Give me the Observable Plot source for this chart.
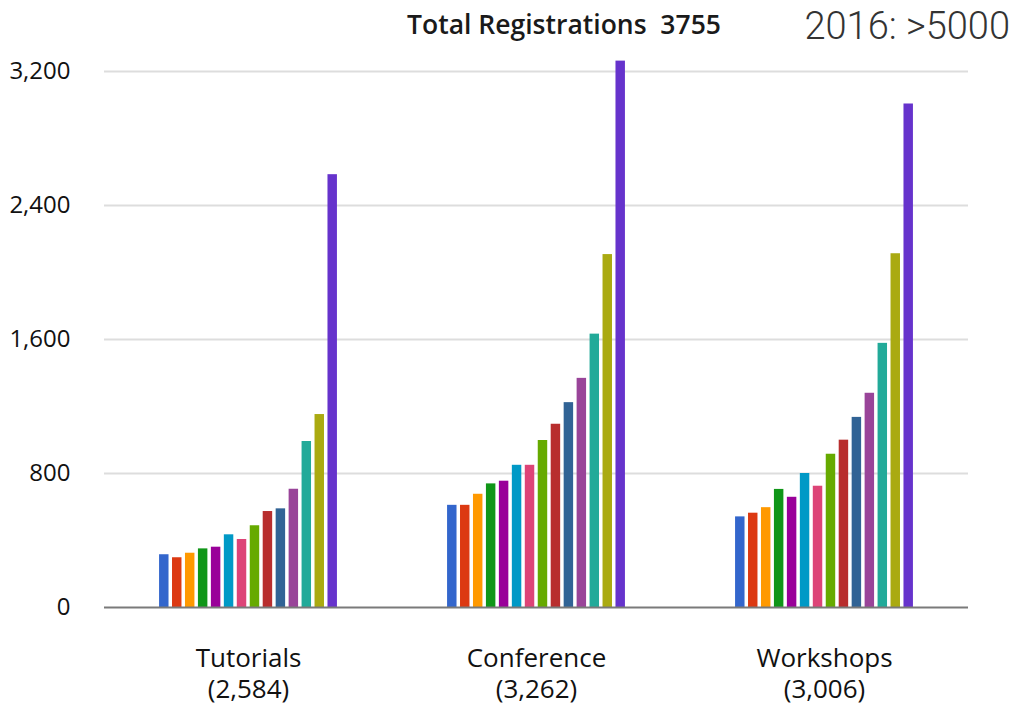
<!DOCTYPE html>
<html>
<head>
<meta charset="utf-8">
<script src="https://cdn.jsdelivr.net/npm/d3@7"></script>
<script src="https://cdn.jsdelivr.net/npm/@observablehq/plot@0.6"></script>
<style>
  html, body { margin: 0; padding: 0; background: #fff; }
  #wrap { position: relative; width: 1013px; height: 707px; overflow: hidden; background: #fff; }
  #title { position: absolute; top: 11px; left: 564px; transform: translateX(-50%); white-space: pre;
           font-family: "Open Sans", sans-serif; font-weight: 600; font-size: 26.5px; line-height: 1; color: #1a1a1a; }
  #note { position: absolute; top: 7px; right: 3px; white-space: pre;
          font-family: Roboto, sans-serif; font-weight: 300; font-size: 38px; line-height: 1; color: #333; }
  svg { display: block; }
</style>
</head>
<body>
<div id="wrap">
  <div id="chart"></div>
  <div id="title">Total Registrations  3755</div>
  <div id="note">2016: &gt;5000</div>
</div>
<script>
const categories = ["Tutorials", "Conference", "Workshops"];
const totalLabels = ["(2,584)", "(3,262)", "(3,006)"];
const tutorials  = [315, 297, 324, 350, 360, 434, 406, 488, 573, 589, 706, 991, 1152, 2584];
const conference = [610, 610, 676, 738, 754, 849, 849, 997, 1094, 1223, 1368, 1632, 2107, 3262];
const workshops  = [541, 563, 596, 705, 658, 800, 724, 915, 999, 1135, 1279, 1577, 2112, 3006];
const colors = ["#3366cc", "#dc3912", "#ff9900", "#109618", "#990099", "#0099c6", "#dd4477",
                "#66aa00", "#b82e2e", "#316395", "#994499", "#22aa99", "#aaaa11", "#6633cc"];
const yTicks = [0, 800, 1600, 2400, 3200];

const seriesByGroup = [tutorials, conference, workshops];
const data = categories.flatMap((c, g) => seriesByGroup[g].map((v, i) => ({group: c, i, value: v})));
const idx = d3.range(colors.length);

const chart = Plot.plot({
  width: 1013,
  height: 707,
  marginLeft: 104,
  marginRight: 45,
  marginTop: 71,
  marginBottom: 100,
  style: {fontFamily: "'Open Sans', sans-serif", background: "transparent", color: "#111"},
  fx: {domain: categories, paddingInner: 0, paddingOuter: 0, round: false, label: null},
  x: {domain: idx, paddingInner: 0.27, paddingOuter: 4.25, round: false, axis: null},
  y: {domain: [0, 3200], label: null},
  color: {type: "ordinal", domain: idx, range: colors},
  marks: [
    Plot.ruleY(yTicks.slice(1), {stroke: "#dddddd", strokeWidth: 2}),
    Plot.barY(data, {fx: "group", x: "i", y: "value", fill: "i"}),
    Plot.ruleY([0], {stroke: "#7a7a7a", strokeWidth: 2}),
    Plot.axisY({ticks: yTicks, tickSize: 0, tickPadding: 34, fontSize: 24,
                tickFormat: d3.format(","), label: null}),
    Plot.axisFx({anchor: "bottom", tickSize: 0, tickPadding: 38, fontSize: 26, lineHeight: 1.17,
                 tickFormat: d => d + "\n" + totalLabels[categories.indexOf(d)], label: null})
  ]
});
document.getElementById("chart").appendChild(chart);
</script>
</body>
</html>
